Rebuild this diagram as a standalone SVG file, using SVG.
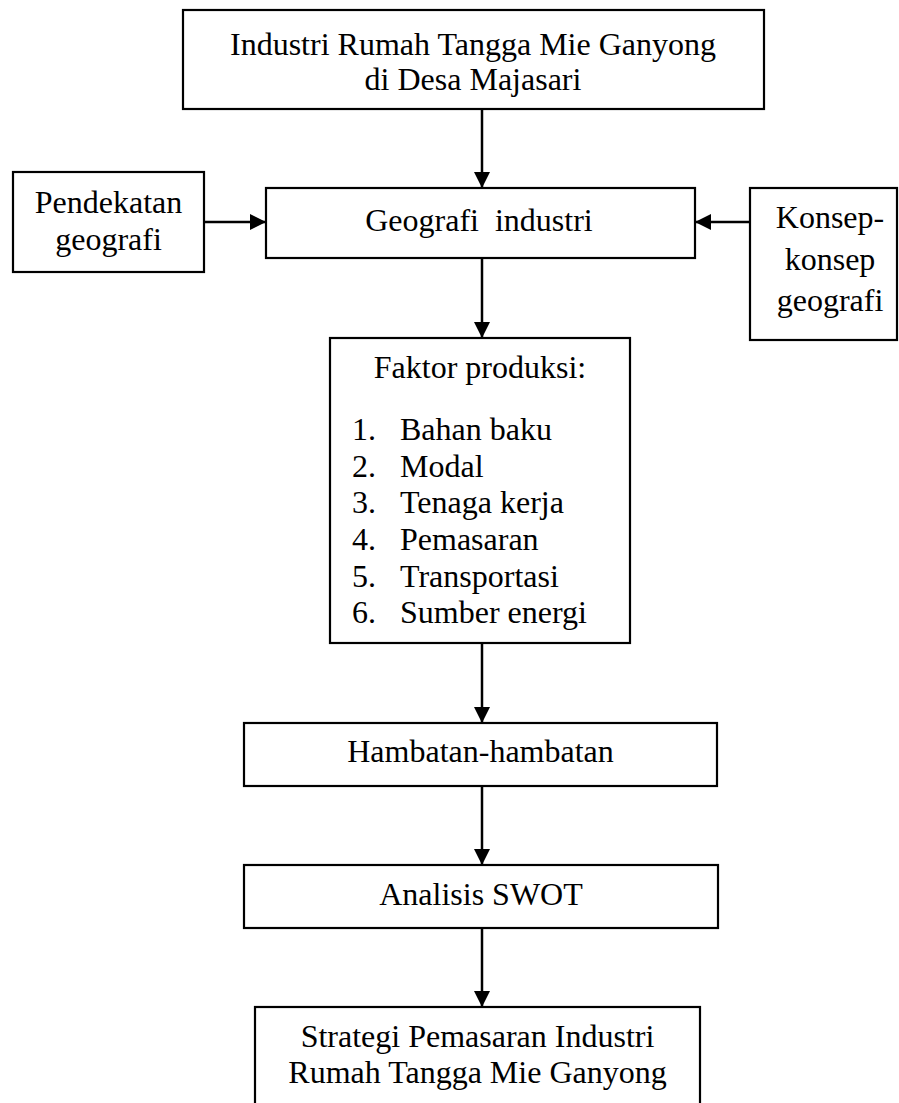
<svg xmlns="http://www.w3.org/2000/svg" width="899" height="1103" viewBox="0 0 899 1103">
<defs>
<style>
.box{fill:#fff;stroke:#000;stroke-width:2.2}
.t{font-family:"Liberation Serif","Times New Roman",serif;font-size:32px;fill:#000;text-anchor:middle}
.tl{font-family:"Liberation Serif","Times New Roman",serif;font-size:32px;fill:#000}
.c{stroke:#000;stroke-width:2.5;fill:none}
</style>
<marker id="ah" markerUnits="userSpaceOnUse" markerWidth="16" markerHeight="16" refX="16" refY="8" orient="auto">
<path d="M0,0 L16,8 L0,16 Z" fill="#000"/>
</marker>
</defs>
<rect width="899" height="1103" fill="#fff"/>
<g id="connectors">
<line class="c" x1="482" y1="109" x2="482" y2="188" marker-end="url(#ah)"/>
<line class="c" x1="482" y1="258" x2="482" y2="338" marker-end="url(#ah)"/>
<line class="c" x1="482" y1="643" x2="482" y2="723" marker-end="url(#ah)"/>
<line class="c" x1="482" y1="786" x2="482" y2="865" marker-end="url(#ah)"/>
<line class="c" x1="482" y1="928" x2="482" y2="1007" marker-end="url(#ah)"/>
<line class="c" x1="204" y1="222" x2="266" y2="222" marker-end="url(#ah)"/>
<line class="c" x1="750" y1="222" x2="695" y2="222" marker-end="url(#ah)"/>
</g>
<g id="n-top">
<rect class="box" x="183" y="10" width="581" height="99"/>
<text class="t" x="473" y="55">Industri Rumah Tangga Mie Ganyong</text>
<text class="t" x="473" y="90">di Desa Majasari</text>
</g>
<g id="n-pendekatan">
<rect class="box" x="13" y="172" width="191" height="100"/>
<text class="t" x="108.5" y="213">Pendekatan</text>
<text class="t" x="108.5" y="250">geografi</text>
</g>
<g id="n-geografi">
<rect class="box" x="266" y="188" width="429" height="70"/>
<text class="t" x="479" y="231" xml:space="preserve">Geografi  industri</text>
</g>
<g id="n-konsep">
<rect class="box" x="750" y="188" width="147" height="152"/>
<text class="t" x="830" y="228">Konsep-</text>
<text class="t" x="830" y="270">konsep</text>
<text class="t" x="830" y="311">geografi</text>
</g>
<g id="n-faktor">
<rect class="box" x="330" y="338" width="300" height="305"/>
<text class="t" x="480" y="378">Faktor produksi:</text>
<text class="tl" x="352" y="440">1.</text><text class="tl" x="400" y="440">Bahan baku</text>
<text class="tl" x="352" y="477">2.</text><text class="tl" x="400" y="477">Modal</text>
<text class="tl" x="352" y="513">3.</text><text class="tl" x="400" y="513">Tenaga kerja</text>
<text class="tl" x="352" y="550">4.</text><text class="tl" x="400" y="550">Pemasaran</text>
<text class="tl" x="352" y="587">5.</text><text class="tl" x="400" y="587">Transportasi</text>
<text class="tl" x="352" y="623">6.</text><text class="tl" x="400" y="623">Sumber energi</text>
</g>
<g id="n-hambatan">
<rect class="box" x="244" y="723" width="473" height="63"/>
<text class="t" x="480.5" y="762">Hambatan-hambatan</text>
</g>
<g id="n-swot">
<rect class="box" x="244" y="865" width="474" height="63"/>
<text class="t" x="481" y="905">Analisis SWOT</text>
</g>
<g id="n-strategi">
<rect class="box" x="255" y="1007" width="445" height="110"/>
<text class="t" x="477.5" y="1047">Strategi Pemasaran Industri</text>
<text class="t" x="477.5" y="1083">Rumah Tangga Mie Ganyong</text>
</g>
</svg>
